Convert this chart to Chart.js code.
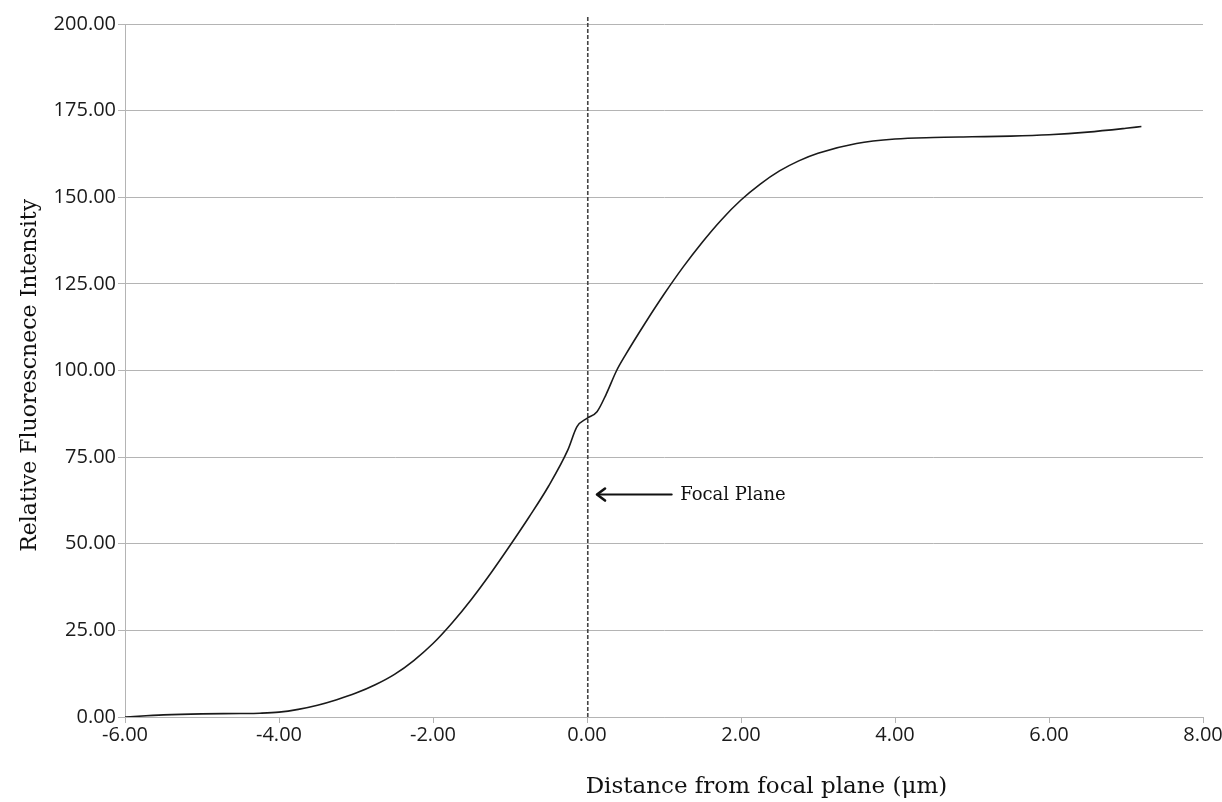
<!DOCTYPE html>
<html>
<head>
<meta charset="utf-8">
<script src="https://cdn.jsdelivr.net/npm/chart.js@4/dist/chart.umd.min.js"></script>
<style>
  html, body { margin: 0; padding: 0; background: #ffffff; }
  #wrap { width: 1222px; height: 802px; position: relative; }
</style>
</head>
<body>
<div id="wrap"><canvas id="chart" width="1222" height="802"></canvas></div>
<script>
// Distance from the focal plane (µm) and measured relative fluorescence intensity
const distance = [-6.00, -5.50, -5.00, -4.50, -4.25, -4.00, -3.75, -3.50, -3.25, -3.00,
                  -2.75, -2.50, -2.25, -2.00, -1.75, -1.50, -1.25, -1.00, -0.75, -0.50,
                  -0.25, -0.13, 0.00, 0.13, 0.25, 0.385, 0.50, 0.75, 1.00, 1.25,
                  1.50, 1.75, 2.00, 2.25, 2.50, 2.75, 3.00, 3.50, 4.00, 4.50,
                  5.00, 5.50, 6.00, 6.50, 7.00, 7.20];
const intensity = [0.0, 0.6, 0.9, 1.0, 1.1, 1.4, 2.2, 3.4, 5.0, 6.9,
                   9.3, 12.3, 16.3, 21.2, 27.2, 34.0, 41.5, 49.5, 57.8, 66.6,
                   77.0, 83.8, 86.2, 88.1, 93.2, 100.0, 104.5, 113.5, 122.0, 129.9,
                   137.1, 143.6, 149.2, 153.8, 157.6, 160.5, 162.7, 165.5, 166.8, 167.25,
                   167.45, 167.65, 168.05, 168.8, 169.9, 170.4];

// Axis ranges and tick spacing
const xRange = [-6, 8];
const xStep = 2;
const yRange = [0, 200];
const yStep = 25;

// Focal plane marker position and its callout
const focalX = 0.01;
const focalLineTop = 202;
const calloutText = 'Focal Plane';
const calloutY = 64.2;
const arrowTipX = 0.13;
const arrowTailX = 1.10;
const calloutTextX = 1.21;

const xTitle = 'Distance from focal plane (\u03BCm)';
const yTitle = 'Relative Fluorescnece Intensity';

const gridGray = '#b4b4b4';
const tickFont = { family: '"Open Sans", "Noto Sans", sans-serif', size: 20 };
const serif = '"DejaVu Serif", "Liberation Serif", serif';

const curve = distance.map((d, i) => ({ x: d, y: intensity[i] }));

const annotations = {
  id: 'annotations',
  afterDatasetsDraw(chart) {
    const { ctx, chartArea, scales: { x, y } } = chart;
    ctx.save();
    // callout arrow pointing at the focal plane
    const ay = y.getPixelForValue(calloutY);
    const tip = x.getPixelForValue(arrowTipX);
    const tail = x.getPixelForValue(arrowTailX);
    ctx.strokeStyle = '#111';
    ctx.lineWidth = 2;
    ctx.lineCap = 'round';
    ctx.lineJoin = 'round';
    ctx.beginPath();
    ctx.moveTo(tail, ay);
    ctx.lineTo(tip + 1, ay);
    ctx.stroke();
    ctx.lineWidth = 2.6;
    ctx.beginPath();
    ctx.moveTo(tip + 8, ay - 6);
    ctx.lineTo(tip, ay);
    ctx.lineTo(tip + 8, ay + 6);
    ctx.stroke();
    ctx.fillStyle = '#111';
    ctx.font = '18px ' + serif;
    ctx.textAlign = 'left';
    ctx.textBaseline = 'middle';
    ctx.fillText(calloutText, x.getPixelForValue(calloutTextX), ay + 1);

    // axis titles
    ctx.textAlign = 'center';
    ctx.textBaseline = 'middle';
    ctx.font = '23px ' + serif;
    ctx.fillText(xTitle, chartArea.left + (chartArea.right - chartArea.left) * 0.595, 787);
    ctx.font = '22px ' + serif;
    ctx.translate(30, chartArea.top + (chartArea.bottom - chartArea.top) * 0.507);
    ctx.rotate(-Math.PI / 2);
    ctx.fillText(yTitle, 0, 0);
    ctx.restore();
  }
};

new Chart(document.getElementById('chart'), {
  type: 'scatter',
  data: {
    datasets: [
      {
        data: curve,
        showLine: true,
        borderColor: '#1a1a1a',
        borderWidth: 1.6,
        pointRadius: 0,
        cubicInterpolationMode: 'monotone',
        order: 1
      },
      {
        data: [{ x: focalX, y: 0 }, { x: focalX, y: focalLineTop }],
        showLine: true,
        borderColor: '#444',
        borderWidth: 1.6,
        borderDash: [4, 2],
        pointRadius: 0,
        clip: false,
        order: 2
      }
    ]
  },
  options: {
    responsive: false,
    animation: false,
    layout: { padding: { left: 0, right: 19, top: 24, bottom: 0 } },
    plugins: { legend: { display: false }, tooltip: { enabled: false } },
    scales: {
      x: {
        type: 'linear',
        min: xRange[0],
        max: xRange[1],
        ticks: {
          stepSize: xStep,
          color: '#1a1a1a',
          font: tickFont,
          padding: 0,
          maxRotation: 0,
          callback: v => v.toFixed(2)
        },
        grid: { drawOnChartArea: false, drawTicks: true, tickLength: 6, tickColor: gridGray },
        border: { display: true, color: gridGray, width: 1 },
        afterFit(scale) { scale.height = 85; scale.paddingLeft = 0; scale.paddingRight = 0; }
      },
      y: {
        min: yRange[0],
        max: yRange[1],
        ticks: {
          stepSize: yStep,
          color: '#1a1a1a',
          font: tickFont,
          padding: 2,
          callback: v => v.toFixed(2)
        },
        grid: { color: gridGray, lineWidth: 1, drawTicks: true, tickLength: 7, tickColor: gridGray },
        border: { display: true, color: gridGray, width: 1 },
        afterFit(scale) { scale.width = 125; scale.paddingTop = 0; scale.paddingBottom = 0; }
      }
    }
  },
  plugins: [annotations]
});
</script>
</body>
</html>
